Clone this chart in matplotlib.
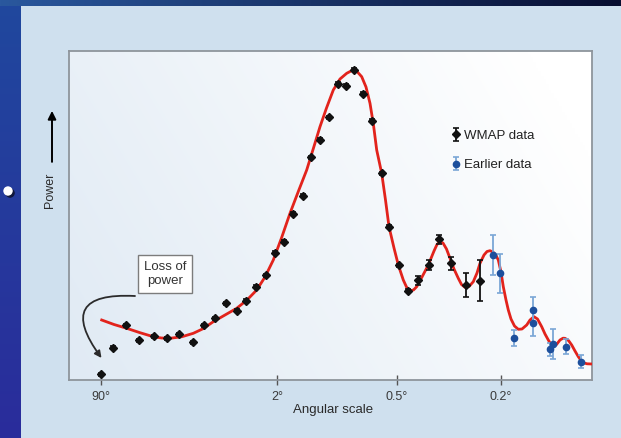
"""
WMAP angular power spectrum slide: data points vs. model curve.
"""
import numpy as np
import matplotlib
matplotlib.use("Agg")
import matplotlib.pyplot as plt
import matplotlib.patheffects as pe

plt.rcParams['font.family'] = ['Liberation Sans', 'DejaVu Sans']

# --- data (x = position along angular-scale axis, y = power, arbitrary units) ---
wmap_x = [31.7, 43.7, 56.7, 69.7, 85, 98, 110.3, 124, 134.7, 145.7, 156.7, 167.7,
          177, 187, 197, 206, 215.3, 224.3, 233.7, 242.3, 251.3, 260, 269, 277,
          285.3, 294.3, 302.7, 312.7, 320, 330, 339.3, 348.7, 360, 370.3, 381.7,
          396.7, 411]
wmap_y = [5.7, 32.3, 54.7, 40, 44, 41.7, 45.7, 38, 55, 61.7, 76.7, 69.3,
          79.3, 93.3, 105, 127, 138.3, 166, 184.3, 222.7, 240, 262.7, 296, 294,
          310, 286.3, 259, 206.7, 153.3, 115, 89.3, 100, 115, 140.7, 116.7,
          95, 99.3]
wmap_err = [1.5] * 31 + [4.5, 4.7, 4.5, 6.7, 11.7, 20.3]

early_x = [423.7, 431, 445.3, 463.7, 463.7, 481, 484.3, 497, 512]
early_y = [125, 106.7, 42.3, 70, 56.7, 30.7, 36, 33.3, 18.3]
early_err = [19.7, 19.7, 8, 13, 13, 6.3, 14.8, 7.5, 6.7]

model_x = [32.7, 45, 57.7, 71, 84.3, 92.5, 101, 113, 124.3, 134.5, 144.3, 156,
           167.7, 178, 187.7, 196, 204.3, 212.5, 221, 229.5, 237.7, 244.5, 251,
           257.5, 264.3, 271, 277.7, 283, 288, 292.7, 297, 301, 304.5, 307.7,
           312.7, 316.5, 320, 325, 329.3, 334.3, 337.5, 341, 344.5, 347.7, 353,
           359.3, 365, 368, 371, 374, 377.5, 381, 385, 389.3, 392.5, 396, 400,
           404.3, 408, 411, 415, 418, 421, 424, 427, 429.3, 432, 434.3, 437,
           439.3, 442, 445.5, 449.3, 453, 457.7, 461, 465, 468.5, 472.7, 476,
           479.3, 482, 484.3, 487.5, 491, 494, 496, 499.5, 502.7, 506, 509.3,
           512, 514.3, 518, 523]
model_y = [60, 55.5, 51.7, 47.3, 43.3, 42, 41.7, 43.3, 46.7, 51.5, 58.3, 65,
           71.7, 80, 90, 103, 120, 142, 166.7, 189, 210, 232, 253.3,
           272, 290, 301, 306.7, 309.5, 308.5, 303.3, 293, 276.7, 255, 230,
           206.7, 180, 153.3, 132, 115, 100, 93, 89.3, 90, 93.3, 103,
           115, 129, 135.5, 138.3, 137, 131, 121.7, 111, 101.7, 95.5, 92.7, 93.5,
           98.3, 107, 116.7, 125, 128.5, 129.3, 128, 124.5, 120, 108, 93.3, 80,
           70, 61, 54, 50.7, 51, 55, 60, 63.3, 61, 53.3, 46,
           40, 35.5, 34, 35.5, 40, 41.8, 41.7, 39.5, 35, 29, 23.3,
           19.5, 17.3, 16.2, 16]

tick_pos = [32, 208, 328, 432]
tick_labels = ['90°', '2°', '0.5°', '0.2°']

W, H = 621, 438
fig = plt.figure(figsize=(W / 100, H / 100), dpi=100)

# slide background: light panel with dark blue strips on top and left
bg = np.ones((H, W, 3)) * np.array([207, 224, 238]) / 255
t = np.linspace(0, 1, W)[None, :, None]
top_a = np.array([42, 88, 158]) / 255
top_b = np.array([8, 14, 48]) / 255
bg[:6, :, :] = top_a * (1 - t) + top_b * t
v = np.linspace(0, 1, H)[:, None, None]
left_a = np.array([32, 72, 158]) / 255
left_b = np.array([42, 44, 155]) / 255
bg[6:, :21, :] = (left_a * (1 - v) + left_b * v)[6:, :, :]
bax = fig.add_axes([0, 0, 1, 1])
bax.imshow(bg, aspect='auto', interpolation='bilinear')
bax.axis('off')

# bullet of the slide (white with dark drop shadow)
fig.text(8 / W, 1 - 193 / H, '•', color='white', fontsize=25, ha='center', va='center',
         path_effects=[pe.withSimplePatchShadow(offset=(1.5, -1.5),
                                                shadow_rgbFace='#0c1230', alpha=0.9)])

ax = fig.add_axes([69 / W, 1 - 380 / H, 523 / W, 329 / H])
ax.set_xlim(0, 523)
ax.set_ylim(0, 329)

# plot area gradient (bluish left -> white right)
gx, gy = np.meshgrid(np.linspace(0, 1, 200), np.linspace(1, 0, 120))
g = np.clip(0.8 * gx + 0.3 * gy, 0, 1)[..., None]
c0 = np.array([224, 234, 244]) / 255
grad = c0 * (1 - g) + np.ones(3) * g
ax.imshow(grad, extent=(0, 523, 0, 329), aspect='auto', zorder=0, interpolation='bilinear')

ax.plot(model_x, model_y, color='#e2231c', lw=2, zorder=3)

wmap = ax.errorbar(wmap_x, wmap_y, yerr=wmap_err, fmt='D', color='#111111',
                   ms=3.8, elinewidth=1.3, capsize=2, capthick=1.2, zorder=4,
                   label='WMAP data')
early = ax.errorbar(early_x, early_y, yerr=early_err, fmt='o', mfc='#1d4f9c',
                    mec='#1d4f9c', ecolor='#7aa6d6', ms=4.5, elinewidth=1.3,
                    capsize=2.5, capthick=1.2, zorder=4, label='Earlier data')

leg = ax.legend(handles=[wmap, early], loc='upper left', bbox_to_anchor=(0.705, 0.797),
                frameon=False, fontsize=9.5, labelspacing=1.3, handlelength=0.9,
                handletextpad=0.2, labelcolor='#222222')

ax.set_xticks(tick_pos)
ax.set_xticklabels(tick_labels)
ax.set_yticks([])
ax.tick_params(axis='x', direction='inout', length=7, width=1, color='#555555',
               labelsize=9, labelcolor='#3a3a3a', pad=4.5)
for s in ax.spines.values():
    s.set_color('#8e959c')
    s.set_linewidth(1.3)

ax.text(0.505, -0.092, 'Angular scale', transform=ax.transAxes, ha='center',
        va='center', fontsize=9.5, color='#2a2a2a')

# y label with upward arrow
ax.text(-0.036, 0.578, 'Power', transform=ax.transAxes, rotation=90, ha='center',
        va='center', fontsize=9, color='#2a2a2a')
ax.annotate('', xy=(-0.0325, 0.818), xytext=(-0.0325, 0.663), xycoords='axes fraction',
            textcoords='axes fraction', annotation_clip=False,
            arrowprops=dict(arrowstyle='-|>', color='black', lw=1.4,
                            mutation_scale=12, shrinkA=0, shrinkB=0))

# annotation box + curved arrow
ax.text(96, 106, 'Loss of\npower', ha='center', va='center', fontsize=9.5,
        color='#333333', linespacing=1.25, zorder=5,
        bbox=dict(boxstyle='square,pad=0.45', fc='white', ec='#7c7c7c', lw=1))
ax.annotate('', xy=(32.5, 22), xytext=(66, 84),
            arrowprops=dict(arrowstyle='-|>', color='#2b2b2b', lw=1.3,
                            connectionstyle='arc3,rad=1.05', mutation_scale=10,
                            shrinkA=0, shrinkB=0), zorder=5)

plt.savefig('out.png', dpi=100)
plt.close()
